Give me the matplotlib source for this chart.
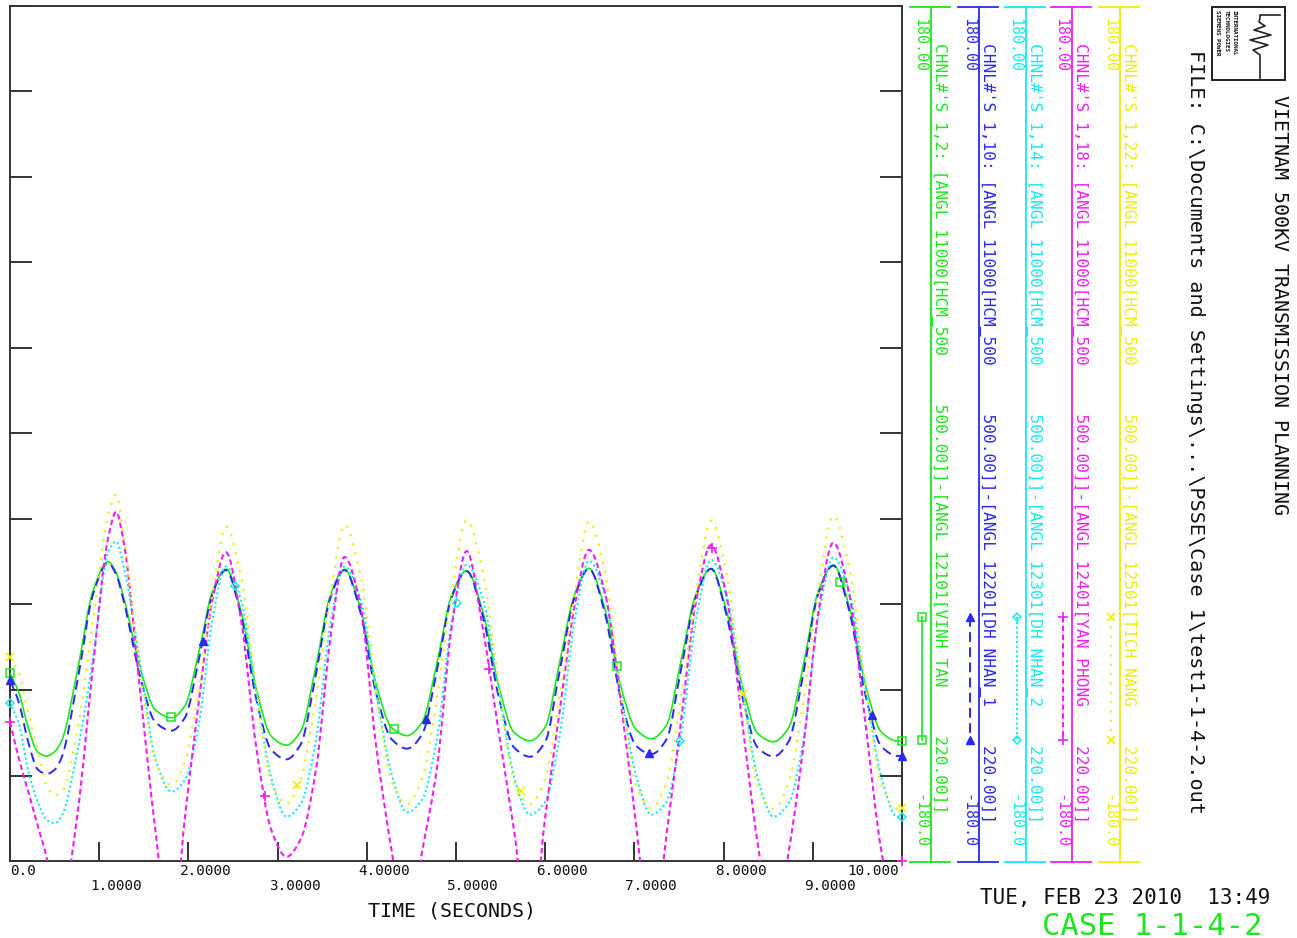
import numpy as np
import matplotlib
matplotlib.use("Agg")
import matplotlib.pyplot as plt
from matplotlib.lines import Line2D
from matplotlib.patches import Rectangle, PathPatch
from matplotlib.path import Path

# ---------------- data ----------------
time_s = [0.00, 0.10, 0.21, 0.31, 0.41, 0.50, 0.58, 0.76, 0.93, 1.10, 1.19, 1.28, 1.46, 1.63,
          1.81, 1.96, 2.12, 2.27, 2.42, 2.59, 2.76, 2.93, 3.10, 3.26, 3.43, 3.59,
          3.75, 3.93, 4.10, 4.28, 4.45, 4.62, 4.79, 4.95, 5.12, 5.30, 5.48, 5.65,
          5.83, 6.00, 6.16, 6.33, 6.49, 6.67, 6.84, 7.02, 7.19, 7.36, 7.52, 7.69,
          7.86, 8.03, 8.21, 8.38, 8.56, 8.73, 8.90, 9.06, 9.23, 9.41, 9.59, 9.77,
          9.95, 10.00]

angle_vinh_tan = [-100.8, -109.2, -124.6, -134.1, -135.8, -134.0, -129.3, -99.0, -66.3, -54.0, -58.6, -69.8, -98.7, -116.4,
                  -119.7, -114.7, -91.5, -66.5, -57.1, -74.9, -107.5, -127.5, -131.2, -125.3, -97.9, -68.3,
                  -57.2, -74.0, -104.9, -123.9, -127.2, -121.6, -96.0, -68.2, -57.8, -75.0, -106.5, -125.8,
                  -129.4, -123.6, -96.7, -67.7, -56.8, -74.0, -105.4, -124.7, -128.5, -122.8, -96.2, -67.6,
                  -56.8, -74.3, -106.4, -126.2, -129.8, -123.8, -96.3, -66.6, -55.4, -73.2, -105.8, -125.8,
                  -129.5, -129.3]

angle_dh_nhan_1 = [-103.8, -113.3, -130.7, -141.4, -143.4, -141.6, -136.3, -103.4, -67.8, -54.5, -59.4, -71.4, -102.5, -121.6,
                   -125.1, -119.7, -94.7, -67.6, -57.5, -76.6, -111.7, -133.2, -137.2, -130.8, -101.3, -69.5,
                   -57.5, -75.5, -108.6, -128.8, -132.7, -126.7, -99.1, -69.2, -58.0, -76.7, -111.1, -132.2,
                   -136.1, -129.8, -100.5, -68.9, -57.0, -75.8, -110.3, -131.5, -135.0, -128.8, -99.9, -68.7,
                   -57.0, -76.0, -110.8, -132.1, -136.0, -129.6, -99.8, -67.7, -55.6, -74.9, -110.1, -131.8,
                   -135.8, -135.6]

angle_dh_nhan_2 = [-113.3, -122.4, -142.8, -155.0, -162.6, -164.1, -161.0, -133.0, -95.0, -50.0, -45.5, -57.0, -97.0, -137.0,
                   -150.8, -146.0, -121.8, -78.2, -56.0, -70.1, -108.7, -145.2, -161.3, -155.9, -129.1, -80.8,
                   -56.0, -69.8, -107.8, -143.7, -159.5, -154.2, -127.6, -79.9, -55.3, -69.4, -108.0, -144.4,
                   -160.5, -155.1, -127.8, -78.8, -53.6, -67.9, -107.1, -144.2, -160.5, -155.0, -127.7, -78.5,
                   -53.2, -67.7, -107.4, -144.8, -161.3, -155.7, -128.0, -78.0, -52.2, -66.9, -107.0, -144.9,
                   -161.6, -161.5]

angle_yan_phong = [-121.5, -137.0, -151.5, -165.0, -178.5, -198.0, -198.0, -159.0, -98.0, -44.0, -33.0, -47.0, -109.0, -167.0,
                   -215.0, -162.0, -112.0, -70.0, -50.0, -78.3, -131.9, -167.0, -178.2, -170.7, -141.5, -87.0,
                   -52.0, -72.8, -130.2, -176.0, -210.0, -176.0, -140.0, -82.0, -49.5, -82.0, -126.0, -167.0,
                   -214.0, -161.5, -117.6, -72.6, -49.0, -67.0, -110.8, -165.0, -215.0, -169.0, -122.0, -71.0,
                   -47.0, -68.0, -122.0, -172.0, -208.0, -176.0, -130.0, -76.0, -46.0, -68.0, -122.0, -176.0,
                   -205.0, -205.0]

angle_tich_nang = [-94.0, -101.0, -118.6, -132.6, -148.4, -152.3, -151.2, -123.9, -79.1, -34.4, -25.7, -45.0, -100.0, -138.0,
                   -148.0, -138.2, -106.7, -67.5, -39.2, -60.2, -107.0, -146.7, -156.0, -145.4, -111.4, -69.0,
                   -38.5, -59.7, -106.7, -146.6, -156.0, -145.2, -110.6, -67.6, -36.5, -58.0, -105.8, -146.4,
                   -156.0, -145.3, -110.8, -68.1, -37.0, -58.7, -107.1, -148.1, -157.8, -146.9, -111.8, -68.2,
                   -36.7, -58.5, -107.1, -148.3, -158.0, -146.9, -111.1, -66.8, -34.7, -56.9, -106.2, -148.1,
                   -158.0, -157.5]

# times at which the plot symbols are drawn on each curve
mark_t_vinh_tan = [0.0, 1.80, 4.30, 6.80, 9.30, 10.0]
mark_t_dh_nhan_1 = [0.0, 2.16, 4.66, 7.16, 9.66, 10.0]
mark_t_dh_nhan_2 = [0.0, 2.52, 5.01, 7.51, 10.0]
mark_t_yan_phong = [0.0, 2.86, 5.37, 7.87, 10.0]
mark_t_tich_nang = [0.0, 3.22, 5.73, 8.22, 10.0]

channel_ids = ["1,2", "1,10", "1,14", "1,18", "1,22"]
bus_ids = ["12101", "12201", "12301", "12401", "12501"]
bus_names = ["VINH TAN", "DH NHAN_1", "DH NHAN_2", "YAN PHONG", "TICH NANG"]

x_ticks = [0, 1, 2, 3, 4, 5, 6, 7, 8, 9, 10]
x_tick_labels = ["0.0", "1.0000", "2.0000", "3.0000", "4.0000", "5.0000",
                 "6.0000", "7.0000", "8.0000", "9.0000", "10.000"]
y_ticks = [-180, -144, -108, -72, -36, 0, 36, 72, 108, 144, 180]
y_min, y_max = -180.0, 180.0
y_max_label, y_min_label = "180.00", "-180.0"

# ---------------- helpers ----------------
W, H = 1297, 938
def fx(p):
    return p / W
def fy(p):
    return 1 - p / H


def smooth_path(t, v):
    """Smooth (monotone cubic) drawing path through the read points."""
    t = np.asarray(t, float)
    v = np.asarray(v, float)
    h = np.diff(t)
    d = np.diff(v) / h
    m = np.zeros_like(v)
    m[0], m[-1] = d[0], d[-1]
    for k in range(1, len(v) - 1):
        if d[k - 1] * d[k] <= 0:
            m[k] = 0.0
        else:
            w1 = 2 * h[k] + h[k - 1]
            w2 = h[k] + 2 * h[k - 1]
            m[k] = (w1 + w2) / (w1 / d[k - 1] + w2 / d[k])
    verts = [(t[0], v[0])]
    codes = [Path.MOVETO]
    for k in range(len(v) - 1):
        verts += [(t[k] + h[k] / 3, v[k] + m[k] * h[k] / 3),
                  (t[k + 1] - h[k] / 3, v[k + 1] - m[k + 1] * h[k] / 3),
                  (t[k + 1], v[k + 1])]
        codes += [Path.CURVE4] * 3
    return Path(verts, codes)


MONO = "DejaVu Sans Mono"
C_GREEN = "#1ee61e"
C_BLUE = "#2a2aee"
C_CYAN = "#16e8f2"
C_MAG = "#f01ef0"
C_YEL = "#eeee08"
C_FRAME = "#333333"

fig = plt.figure(figsize=(W / 100, H / 100), dpi=100)
fig.patch.set_facecolor("white")
ax = fig.add_axes([fx(10), 1 - 861 / H, 892 / W, 855 / H])

series = [
    (angle_vinh_tan, mark_t_vinh_tan, dict(color=C_GREEN, lw=1.2, ls="-"),
     dict(marker="s", ms=5.5, mfc="none", mew=1.1)),
    (angle_dh_nhan_1, mark_t_dh_nhan_1, dict(color=C_BLUE, lw=1.4, ls=(0, (5, 2.8))),
     dict(marker="^", ms=5.5, mfc=C_BLUE, mew=1.0)),
    (angle_dh_nhan_2, mark_t_dh_nhan_2, dict(color=C_CYAN, lw=1.5, ls=(0, (1, 1.3))),
     dict(marker="D", ms=4.5, mfc="none", mew=1.1)),
    (angle_yan_phong, mark_t_yan_phong, dict(color=C_MAG, lw=1.5, ls=(0, (2.6, 1.6))),
     dict(marker="+", ms=7, mew=1.2)),
    (angle_tich_nang, mark_t_tich_nang, dict(color=C_YEL, lw=1.6, ls=(0, (1, 3.2))),
     dict(marker="x", ms=6, mew=1.2)),
]

t_arr = np.array(time_s)
for z, (vals, mt, lstyle, mstyle) in enumerate(series):
    patch = PathPatch(smooth_path(t_arr, vals), fill=False, edgecolor=lstyle["color"],
                      lw=lstyle["lw"], linestyle=lstyle["ls"], zorder=3 + z,
                      capstyle="butt", joinstyle="round")
    ax.add_patch(patch)
    my = np.clip(np.interp(mt, t_arr, vals), y_min, y_max)
    ax.plot(mt, my, ls="none", color=lstyle["color"], mec=lstyle["color"],
            clip_on=False, zorder=10 + z, **mstyle)

ax.set_xlim(0, 10)
ax.set_ylim(y_min, y_max)

for sp in ax.spines.values():
    sp.set_color(C_FRAME)
    sp.set_linewidth(1.4)
ax.set_xticks(x_ticks)
ax.set_xticklabels([])
ax.set_yticks(y_ticks)
ax.set_yticklabels([])
ax.tick_params(axis="x", direction="in", length=14, width=1.4, color=C_FRAME,
               bottom=True, top=False)
ax.tick_params(axis="y", direction="in", length=16, width=1.4, color=C_FRAME,
               left=True, right=True)

# x tick labels in two staggered rows (PSS/E style)
xtr = ax.get_xaxis_transform()
for i, (tk, lab) in enumerate(zip(x_ticks, x_tick_labels)):
    yrow = -0.0117 if i % 2 == 0 else -0.0292
    if i == 0:
        ax.text(tk, yrow, lab, transform=xtr, ha="left", va="center",
                family=MONO, fontsize=10.4, color="#111111")
    elif i == len(x_ticks) - 1:
        ax.text(tk - 0.325, yrow, lab, transform=xtr, ha="center", va="center",
                family=MONO, fontsize=10.4, color="#111111")
    else:
        ax.text(tk + 0.19, yrow, lab, transform=xtr, ha="center", va="center",
                family=MONO, fontsize=10.4, color="#111111")

ax.text(0.4955, -0.0585, "TIME (SECONDS)", transform=ax.transAxes, ha="center",
        va="center", family=MONO, fontsize=14.4, color="#111111")

# ---------------- channel legend columns ----------------
col_x = [930.7, 979.0, 1025.7, 1071.7, 1120.0]
col_colors = [C_GREEN, C_BLUE, C_CYAN, C_MAG, C_YEL]
for k, (xl, c) in enumerate(zip(col_x, col_colors)):
    fig.add_artist(Line2D([fx(xl), fx(xl)], [fy(6.7), fy(861.7)], color=c, lw=1.3,
                          transform=fig.transFigure))
    for yy in (6.7, 861.7):
        fig.add_artist(Line2D([fx(xl - 21), fx(xl + 19)], [fy(yy), fy(yy)], color=c,
                              lw=1.3, transform=fig.transFigure))
    fig.text(fx(xl - 10.7), fy(18), y_max_label, rotation=-90, rotation_mode="anchor",
             ha="left", va="center", family=MONO, fontsize=10.8, color=c)
    fig.text(fx(xl - 10.7), fy(848), y_min_label, rotation=-90, rotation_mode="anchor",
             ha="right", va="center", family=MONO, fontsize=10.8, color=c)
    part1 = "CHNL#'S %s: [ANGL 11000[HCM_500" % channel_ids[k]
    part2 = "500.00]]-[ANGL %s[%s" % (bus_ids[k], bus_names[k])
    full = part1 + " " * 5 + part2.ljust(34) + "220.00]]"
    fig.text(fx(xl + 8.5), fy(43), full, rotation=-90, rotation_mode="anchor",
             ha="left", va="center", family=MONO, fontsize=11.6, color=c)
    # legend sample of the line style with its symbol at both ends
    lstyle = series[k][2]
    mstyle = dict(series[k][3])
    fig.add_artist(Line2D([fx(xl - 9), fx(xl - 9)], [fy(617), fy(740)],
                          transform=fig.transFigure, mec=c, **lstyle, **mstyle))

# ---------------- header / footer text ----------------
fig.text(fx(1279), fy(95), "VIETNAM 500KV TRANSMISSION PLANNING", rotation=-90,
         rotation_mode="anchor", ha="left", va="center", family=MONO, fontsize=14.4,
         color="#111111")
fig.text(fx(1195), fy(50), r"FILE: C:\Documents and Settings\...\PSSE\Case 1\test1-1-4-2.out",
         rotation=-90, rotation_mode="anchor", ha="left", va="center", family=MONO,
         fontsize=14.5, color="#111111")
fig.text(fx(980), fy(898), "TUE, FEB 23 2010  13:49", ha="left", va="center",
         family=MONO, fontsize=15, color="#111111")
fig.text(fx(1042), fy(926), "CASE 1-1-4-2", ha="left", va="center",
         family=MONO, fontsize=22, color=C_GREEN)

# logo box
fig.add_artist(Rectangle((fx(1212), fy(80)), 73 / W, 73 / H, transform=fig.transFigure,
                         fill=False, lw=1.4, ec="#222222"))
for j, s in enumerate(["SIEMENS POWER", "TECHNOLOGIES", "INTERNATIONAL"]):
    fig.text(fx(1218 + j * 8), fy(10), s, rotation=-90, rotation_mode="anchor",
             ha="left", va="center", family=MONO, fontsize=4.2, color="#111111",
             fontweight="bold")
wx = [1260, 1260, 1253, 1268, 1250, 1271, 1254, 1265, 1259, 1260, 1260, 1280]
wy = [78, 55, 50, 45, 40, 35, 30, 26, 22, 18, 15, 15]
fig.add_artist(Line2D([fx(v) for v in wx], [fy(v) for v in wy], color="#222222",
                      lw=1.2, transform=fig.transFigure))

fig.savefig("out.png", dpi=100, facecolor="white")
